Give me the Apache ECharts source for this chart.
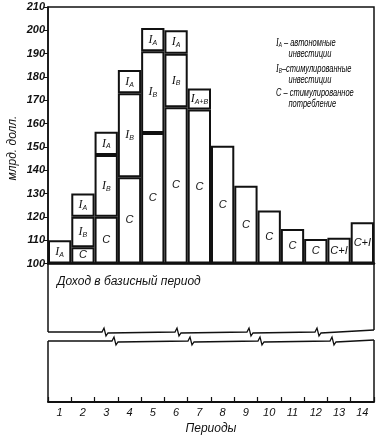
<!DOCTYPE html>
<html><head><meta charset="utf-8">
<script src="https://cdn.jsdelivr.net/npm/echarts@6/dist/echarts.min.js"></script>
<style>html,body{margin:0;padding:0;background:#fff}#c{width:382px;height:437px}</style>
</head><body><div id="c"></div>
<script>
// ---- data (values are increments above the base-period income of 100) ----
const periods = ['1','2','3','4','5','6','7','8','9','10','11','12','13','14'];
const baseIncome = 100;
const consumption          = [null, 7, 20, 37, 56, 67, 66, 50.5, 33.3, 22.7, 14.8, 10.5, 11, 17.7];
const inducedInvestment    = [null, 13, 26.5, 36, 35, 23, null, null, null, null, null, null, null, null];
const autonomousInvestment = [10, 10, 10, 10, 10, 10, null, null, null, null, null, null, null, null];
const combinedInvestment   = [null, null, null, null, null, null, 9, null, null, null, null, null, null, null];
const consumptionLabels    = ['', 'C','C','C','C','C','C','C','C','C','C','C','C+I','C+I'];
const yTicks = [100,110,120,130,140,150,160,170,180,190,200,210];

const W = 382, L = 48, R = 8, TOP = 7, BASE_Y = 263.5, LOW_TOP = 341, AX_Y = 402;
const chart = echarts.init(document.getElementById('c'), null, {renderer:'canvas'});

const rich = {
  i:{fontFamily:'Liberation Serif', fontStyle:'italic', fontSize:12, color:'#111'},
  c:{fontFamily:'Liberation Sans', fontStyle:'italic', fontSize:11, color:'#111'},
  s:{fontFamily:'Liberation Sans', fontStyle:'italic', fontSize:7, color:'#111', padding:[6,0,0,0], lineHeight:8},
  t:{fontFamily:'Liberation Sans', fontStyle:'italic', fontSize:11, color:'#111'}
};
const segStyle = {color:'#fff', borderColor:'#111', borderWidth:2};
function mk(name, data, fmt){
  return {name, type:'bar', stack:'y', xAxisIndex:0, yAxisIndex:0, data, barWidth:'100%',
    itemStyle:segStyle, animation:false,
    label:{show:true, position:'inside', formatter:fmt, rich}};
}

const zig = (x, y) => [[x, y],[x+2, y-4],[x+4, y+4],[x+6, y+1]];
function edge(y0, xs, y1){
  let pts = [[L, y0]];
  xs.forEach(x => { zig(x, y0).forEach(p => pts.push(p)); });
  pts.push([W-R, y1]);
  return pts;
}
const line = (x1,y1,x2,y2,w) => ({type:'line', shape:{x1,y1,x2,y2}, style:{stroke:'#111', lineWidth:w||1.5}, silent:true});
const legendText = (y, text) => ({type:'text', x:276, y, scaleX:0.68, scaleY:1,
  style:{text, rich, lineHeight:11, verticalAlign:'top'}, silent:true});

const option = {
  backgroundColor:'#fff',
  animation:false,
  grid:[
    {left:L, right:R, top:TOP, height:BASE_Y-TOP, show:true, borderColor:'#111', borderWidth:1.5},
    {left:L, right:R, top:LOW_TOP, height:AX_Y-LOW_TOP}
  ],
  xAxis:[
    {type:'category', gridIndex:0, data:periods, axisLine:{show:true, lineStyle:{color:'#111', width:2.5}},
     axisTick:{show:false}, axisLabel:{show:false}},
    {type:'category', gridIndex:1, data:periods, axisLine:{show:true, lineStyle:{color:'#111', width:2}},
     axisTick:{show:true, inside:true, length:5, lineStyle:{color:'#111', width:1.2}},
     axisLabel:{fontFamily:'Liberation Sans', fontStyle:'italic', fontSize:11, color:'#111', margin:5},
     name:'Периоды', nameLocation:'middle', nameGap:21,
     nameTextStyle:{fontFamily:'Liberation Sans', fontStyle:'italic', fontSize:12, color:'#111'}}
  ],
  yAxis:[
    {type:'value', gridIndex:0, min:0, max:110, interval:10,
     axisLine:{show:true, lineStyle:{color:'#111', width:1.5}},
     axisTick:{show:true, length:4, lineStyle:{color:'#111'}},
     splitLine:{show:false},
     axisLabel:{formatter:v => String(yTicks[Math.round(v/10)] !== undefined ? v + baseIncome : ''),
       fontFamily:'Liberation Sans', fontStyle:'italic', fontWeight:'bold', fontSize:11, color:'#111', margin:3}},
    {type:'value', gridIndex:1, show:false, min:0, max:1}
  ],
  series:[
    mk('C', consumption, p => '{c|' + consumptionLabels[p.dataIndex] + '}'),
    mk('IB', inducedInvestment, () => '{i|I}{s|B}'),
    mk('IA', autonomousInvestment, () => '{i|I}{s|A}'),
    mk('IAB', combinedInvestment, () => '{i|I}{s|A+B}')
  ],
  graphic:[
    line(L, BASE_Y, L, 332), line(W-R, BASE_Y, W-R, 330),
    line(L, LOW_TOP, L, AX_Y), line(W-R, LOW_TOP-1, W-R, AX_Y),
    {type:'polyline', shape:{points:edge(332, [102,175,247,315], 330)}, style:{stroke:'#111', lineWidth:1.3, fill:null}, silent:true},
    {type:'polyline', shape:{points:edge(341, [112,188,258,330], 340)}, style:{stroke:'#111', lineWidth:1.3, fill:null}, silent:true},
    {type:'text', left:57, top:276, style:{text:'Доход в базисный период', font:'italic 12px "Liberation Sans"', fill:'#111'}},
    {type:'text', x:13, y:148, rotation:Math.PI/2, style:{text:'млрд. долл.', font:'italic 12px "Liberation Sans"', fill:'#111', align:'center', verticalAlign:'middle'}},
    legendText(37, '{i|I}{s|A}{t| – автономные}\n{t|      инвестиции}'),
    legendText(63, '{i|I}{s|B}{t|–стимулированные}\n{t|      инвестиции}'),
    legendText(87, '{c|C}{t| – стимулированное}\n{t|      потребление}')
  ]
};
chart.setOption(option);
</script></body></html>
